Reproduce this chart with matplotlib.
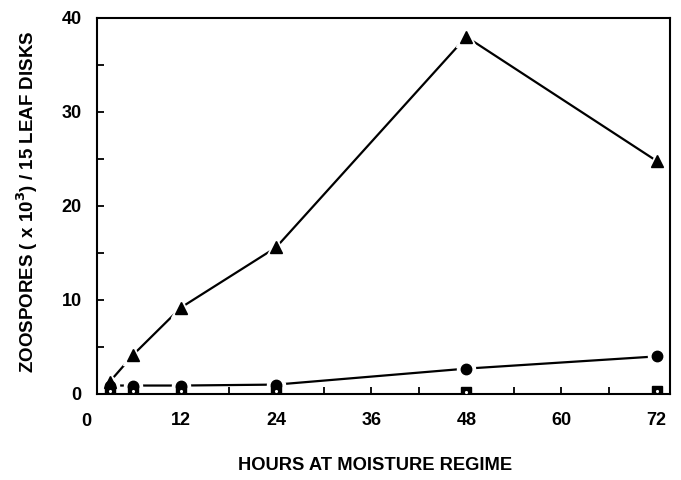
import matplotlib
matplotlib.use('Agg')
import matplotlib.pyplot as plt
from matplotlib.ticker import MultipleLocator

plt.rcParams['font.family'] = ['Liberation Sans', 'DejaVu Sans']
plt.rcParams['font.weight'] = 'bold'

# hours at moisture regime
hours = [3, 6, 12, 24, 48, 72]
# zoospores (x 10^3) / 15 leaf disks
triangles = [1.3, 4.2, 9.2, 15.6, 38.0, 24.8]
circles = [0.9, 0.9, 0.9, 1.0, 2.7, 4.0]
squares = [0.3, 0.3, 0.3, 0.3, 0.2, 0.3]

x_ticks = [12, 24, 36, 48, 60, 72]
y_ticks = [0, 10, 20, 30, 40]

fig = plt.figure(figsize=(6.81, 4.80), dpi=100)
ax = fig.add_axes([97 / 681, 1 - 394 / 480, 573 / 681, 376 / 480])

# lines with a small gap at each marker
ax.plot(hours, triangles, color='black', lw=1.6, zorder=1)
ax.plot(hours, circles, color='black', lw=1.6, zorder=1)
ax.plot(hours, triangles, ls='none', marker='^', ms=15, color='white', zorder=2)
ax.plot(hours, circles, ls='none', marker='o', ms=13, color='white', zorder=2)

ax.plot(hours, squares, ls='none', marker='s', ms=7, color='black', zorder=3)
ax.plot(hours, squares, ls='none', marker='.', ms=2.5, color='white', zorder=4)
ax.plot(hours, circles, ls='none', marker='o', ms=7.5, color='black', zorder=3)
ax.plot(hours, triangles, ls='none', marker='^', ms=8.5, color='black', zorder=3)

ax.set_xlim(1.4, 73.7)
ax.set_ylim(0, 40)
ax.set_xticks(x_ticks)
ax.set_yticks(y_ticks)
ax.xaxis.set_minor_locator(MultipleLocator(6))
ax.yaxis.set_minor_locator(MultipleLocator(5))
ax.tick_params(which='both', direction='in', length=5, width=1.3,
               labelsize=13)
ax.tick_params(axis='x', which='both', pad=13)
ax.tick_params(axis='y', which='both', pad=11)
ax.tick_params(axis='x', which='both', top=False)
ax.tick_params(axis='y', which='both', right=False)
ax.text(0, -0.05, '0', transform=ax.get_xaxis_transform(),
        ha='center', va='top', fontsize=13, fontweight='bold')

for s in ax.spines.values():
    s.set_linewidth(1.5)

ax.set_xlabel('HOURS AT MOISTURE REGIME', fontsize=13.2, fontweight='bold',
              va='top')
ax.xaxis.set_label_coords(0.485, -0.168)
ax.set_ylabel('ZOOSPORES ( x 10$^\\mathbf{3}$) / 15 LEAF DISKS', fontsize=13.5,
              fontweight='bold')
ax.yaxis.set_label_coords(-0.1, 0.51)

plt.savefig('out.png', dpi=100)
